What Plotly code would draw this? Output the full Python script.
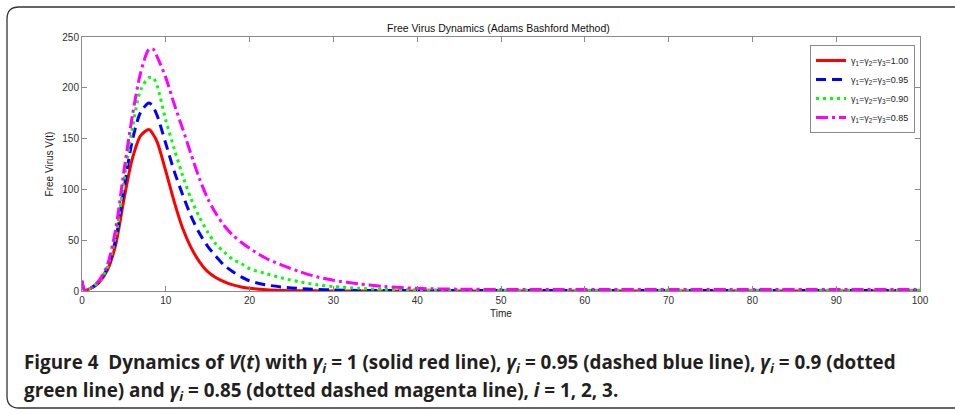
import plotly.graph_objects as go

# ---------------- data ----------------
time = [0, 0.3, 1, 2, 3, 4, 5, 6, 7, 8, 8.5, 9, 10, 11, 12, 13, 14, 15, 16, 17, 18,
        19, 20, 22, 24, 26, 28, 30, 33, 36, 40, 45, 50, 60, 70, 80, 90, 100]

v_100 = [10, 1, 2.5, 8, 20, 45, 90, 130, 153, 159, 154, 146, 118, 88, 62, 43, 29, 19,
         13, 9, 6, 4, 2.7, 1.3, 0.6, 0.3, 0.15, 0.1, 0.1, 0.1, 0.1, 0.1, 0.1, 0.1, 0.1,
         0.1, 0.1, 0.1]
v_095 = [10, 1, 2.5, 9, 22, 50, 100, 148, 176, 185, 181, 172, 145, 118, 95, 74, 57, 44,
         34, 25, 19, 14, 10, 6, 3.8, 2.4, 1.5, 1.0, 0.6, 0.5, 0.4, 0.4, 0.4, 0.4, 0.4,
         0.4, 0.4, 0.4]
v_090 = [10, 1, 2.5, 9, 23, 53, 108, 160, 198, 210, 210, 201, 168, 140, 114, 91, 73, 58,
         46, 38, 31, 27, 22, 17, 12.5, 9, 6.2, 4.3, 2.7, 1.6, 1.1, 0.9, 0.8, 0.8, 0.8,
         0.8, 0.8, 0.8]
v_085 = [10, 1, 2.5, 10, 25, 60, 118, 172, 215, 238, 238, 230, 210, 184, 160, 135, 111,
         91, 76, 64, 55, 48, 42, 32, 25, 19, 14, 10.5, 7, 4.5, 2.6, 1.8, 1.5, 1.5, 1.5,
         1.5, 1.5, 1.5]

series_names = ["γ<sub>1</sub>=γ<sub>2</sub>=γ<sub>3</sub>=1.00",
                "γ<sub>1</sub>=γ<sub>2</sub>=γ<sub>3</sub>=0.95",
                "γ<sub>1</sub>=γ<sub>2</sub>=γ<sub>3</sub>=0.90",
                "γ<sub>1</sub>=γ<sub>2</sub>=γ<sub>3</sub>=0.85"]
series_vals = [v_100, v_095, v_090, v_085]
x_ticks = [0, 10, 20, 30, 40, 50, 60, 70, 80, 90, 100]
y_ticks = [0, 50, 100, 150, 200, 250]

title_text = "Free Virus Dynamics (Adams Bashford Method)"
caption_1 = ("<b>Figure 4&nbsp; Dynamics of <i>V</i>(<i>t</i>) with <i>γ<sub>i</sub></i> = 1 "
             "(solid red line), <i>γ<sub>i</sub></i> = 0.95 (dashed blue line), "
             "<i>γ<sub>i</sub></i> = 0.9 (dotted</b>")
caption_2 = ("<b>green line) and <i>γ<sub>i</sub></i> = 0.85 (dotted dashed magenta line), "
             "<i>i</i> = 1, 2, 3.</b>")

# ---------------- styles ----------------
colors = ["#ff0000", "#0000ff", "#00ff00", "#ff00ff"]
dashes = ["solid", "10px,6px", "3px,4px", "12px,4px,3px,4px"]

W, H = 955, 414
ML, MR, MT, MB = 82, 35, 37, 123


def px(x):
    return (x - ML) / (W - ML - MR)


def py(y):
    return (H - MB - y) / (H - MT - MB)


fig = go.Figure()
for name, vals, c, d in zip(series_names, series_vals, colors, dashes):
    fig.add_trace(go.Scatter(x=time, y=vals, mode="lines", name=name,
                             line=dict(color=c, width=3, dash=d, shape="spline", smoothing=0.8)))

axis_common = dict(showline=True, linecolor="#8a8a8a", linewidth=1, mirror="ticks",
                   ticks="inside", ticklen=5, tickcolor="#8a8a8a", showgrid=False,
                   zeroline=False, tickfont=dict(family="Liberation Sans", size=10, color="#303030"))

fig.update_layout(
    width=W, height=H,
    margin=dict(l=ML, r=MR, t=MT, b=MB, autoexpand=False),
    paper_bgcolor="white", plot_bgcolor="white",
    font=dict(family="Liberation Sans", size=10, color="#222"),
    xaxis=dict(range=[0, 100], tickvals=x_ticks,
               title=dict(text="Time", standoff=4, font=dict(size=10, color="#222")),
               **axis_common),
    yaxis=dict(range=[0, 250], tickvals=y_ticks,
               title=dict(text="Free Virus V(t)", standoff=6, font=dict(size=10, color="#222")),
               **axis_common),
    legend=dict(x=px(810), y=py(45), xanchor="left", yanchor="top",
                bgcolor="white", bordercolor="#8a8a8a", borderwidth=1,
                font=dict(family="Liberation Sans", size=9, color="#222"),
                tracegroupgap=0, itemwidth=30),
    showlegend=True,
)

fig.add_annotation(text=title_text, xref="paper", yref="paper", x=px(498), y=py(28),
                   xanchor="center", yanchor="middle", showarrow=False,
                   font=dict(family="Liberation Sans", size=10.5, color="#111"))

fig.add_annotation(text=caption_1, xref="paper", yref="paper", x=px(22), y=py(363),
                   xanchor="left", yanchor="middle", showarrow=False,
                   font=dict(family="Open Sans", size=18.85, color="#231f20"))
fig.add_annotation(text=caption_2, xref="paper", yref="paper", x=px(22), y=py(391),
                   xanchor="left", yanchor="middle", showarrow=False,
                   font=dict(family="Open Sans", size=18.85, color="#231f20"))

border = (f"M {px(960)},{py(7)} L {px(19)},{py(7)} Q {px(7)},{py(7)} {px(7)},{py(19)} "
          f"L {px(7)},{py(396)} Q {px(7)},{py(408)} {px(19)},{py(408)} L {px(960)},{py(408)}")
fig.add_shape(type="path", path=border, xref="paper", yref="paper",
              line=dict(color="#333", width=1.3))

fig.write_html("out.html", config={"displayModeBar": False},
               post_script="document.body.style.margin='0';document.body.style.overflow='hidden';")
